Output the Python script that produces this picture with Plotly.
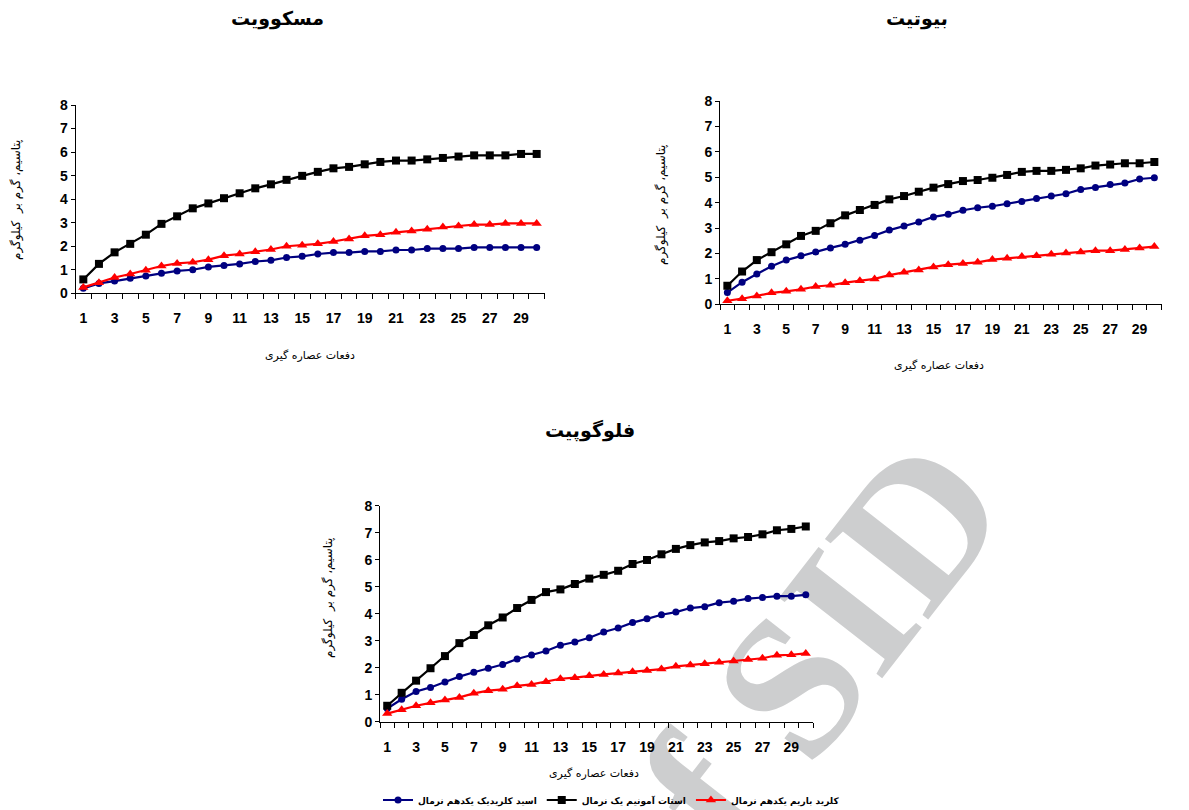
import plotly.graph_objects as go

# ---------------- data ----------------
extractions = list(range(1, 31))
tick_labels = [str(v) for v in range(1, 30, 2)]

series_names = ["اسید کلریدیک یکدهم نرمال", "استات آمونیم یک نرمال", "کلرید باریم یکدهم نرمال"]
series_colors = ["#000080", "#000000", "#FF0000"]
series_symbols = ["circle", "square", "triangle-up"]
series_sizes = [7, 8, 9]

# Muscovite (مسکوویت)
musc_hcl = [0.21, 0.42, 0.52, 0.64, 0.74, 0.85, 0.95, 1.00, 1.12, 1.18, 1.25, 1.35, 1.40, 1.52, 1.57,
            1.67, 1.73, 1.73, 1.78, 1.78, 1.84, 1.84, 1.90, 1.90, 1.90, 1.95, 1.95, 1.95, 1.95, 1.95]
musc_nh4 = [0.59, 1.25, 1.74, 2.10, 2.49, 2.95, 3.27, 3.61, 3.82, 4.04, 4.25, 4.46, 4.63, 4.82, 4.99,
            5.16, 5.31, 5.37, 5.48, 5.58, 5.64, 5.64, 5.69, 5.75, 5.81, 5.86, 5.86, 5.86, 5.92, 5.92]
musc_bacl = [0.25, 0.45, 0.67, 0.82, 0.98, 1.16, 1.27, 1.32, 1.43, 1.60, 1.67, 1.76, 1.86, 2.00, 2.04,
             2.10, 2.20, 2.31, 2.44, 2.49, 2.59, 2.65, 2.72, 2.82, 2.86, 2.92, 2.92, 2.97, 2.97, 2.97]

# Biotite (بیوتیت)
bio_hcl = [0.46, 0.87, 1.19, 1.50, 1.74, 1.91, 2.06, 2.22, 2.36, 2.52, 2.71, 2.92, 3.08, 3.24, 3.44,
           3.54, 3.70, 3.80, 3.86, 3.96, 4.05, 4.16, 4.26, 4.35, 4.52, 4.60, 4.71, 4.77, 4.93, 4.98]
bio_nh4 = [0.73, 1.29, 1.74, 2.05, 2.36, 2.69, 2.89, 3.19, 3.50, 3.71, 3.91, 4.13, 4.26, 4.43, 4.59,
           4.73, 4.85, 4.89, 4.98, 5.09, 5.21, 5.25, 5.25, 5.29, 5.35, 5.46, 5.50, 5.55, 5.55, 5.60]
bio_bacl = [0.14, 0.22, 0.33, 0.45, 0.51, 0.59, 0.70, 0.75, 0.85, 0.93, 1.00, 1.15, 1.26, 1.35, 1.47,
            1.56, 1.61, 1.65, 1.76, 1.81, 1.88, 1.91, 1.97, 2.02, 2.06, 2.11, 2.11, 2.16, 2.22, 2.27]

# Phlogopite (فلوگوپیت)
phl_hcl = [0.49, 0.83, 1.12, 1.27, 1.47, 1.67, 1.83, 1.98, 2.12, 2.32, 2.47, 2.62, 2.83, 2.95, 3.11,
           3.32, 3.47, 3.67, 3.81, 3.96, 4.06, 4.21, 4.26, 4.41, 4.46, 4.56, 4.60, 4.65, 4.65, 4.70]
phl_nh4 = [0.59, 1.07, 1.52, 1.98, 2.43, 2.91, 3.21, 3.57, 3.86, 4.21, 4.51, 4.80, 4.90, 5.10, 5.30,
           5.44, 5.59, 5.84, 5.99, 6.20, 6.40, 6.54, 6.64, 6.69, 6.79, 6.84, 6.94, 7.09, 7.14, 7.23]
phl_bacl = [0.30, 0.44, 0.59, 0.70, 0.80, 0.90, 1.05, 1.15, 1.20, 1.33, 1.38, 1.48, 1.59, 1.63, 1.70,
            1.75, 1.80, 1.85, 1.90, 1.95, 2.05, 2.10, 2.15, 2.20, 2.25, 2.30, 2.35, 2.46, 2.48, 2.53]

chart_titles = ["مسکوویت", "بیوتیت", "فلوگوپیت"]
x_title = "دفعات عصاره گیری"
y_title = "پتاسیم، گرم بر  کیلوگرم"
watermark = "of SID"

# ---------------- layout helpers ----------------
PAGE_OFF = 8            # default body margin of the html page
W, H = 1189 - PAGE_OFF, 810 - PAGE_OFF


def px_x(v):
    return (v - PAGE_OFF) / W


def px_y(v):
    return 1 - (v - PAGE_OFF) / H


# plot rectangles in page pixels: (left, right, top, bottom)
panels = [
    (75.5, 544.5, 105.0, 293.3),
    (720.0, 1161.7, 101.0, 304.3),
    (380.0, 813.0, 505.7, 721.7),
]
panel_data = [
    (musc_hcl, musc_nh4, musc_bacl),
    (bio_hcl, bio_nh4, bio_bacl),
    (phl_hcl, phl_nh4, phl_bacl),
]

fig = go.Figure()

arabic_font = "DejaVu Sans"
num_font = "Liberation Sans, Arial"

for i, (vals, rect) in enumerate(zip(panel_data, panels)):
    axn = "" if i == 0 else str(i + 1)
    for j, series in enumerate(vals):
        fig.add_trace(go.Scatter(
            x=extractions, y=series, mode="lines+markers",
            name=series_names[j],
            line=dict(color=series_colors[j], width=2.2),
            marker=dict(symbol=series_symbols[j], size=series_sizes[j], color=series_colors[j]),
            xaxis="x" + axn, yaxis="y" + axn,
            showlegend=(i == 2),
            cliponaxis=False,
        ))
    l, r, t, b = rect
    xa = dict(
        domain=[px_x(l), px_x(r)], anchor="y" + axn, range=[0.5, 30.5],
        tickmode="array", tickvals=list(range(1, 30, 2)), ticktext=tick_labels,
        ticks="", showline=True, linecolor="black", linewidth=1, showgrid=False, zeroline=False,
        tickfont=dict(family=num_font, size=14, color="black", weight="bold"),
        ticklabelstandoff=12, automargin=False,
        minor=dict(tickmode="linear", tick0=0.5, dtick=1, ticks="outside", ticklen=5,
                   tickcolor="black", tickwidth=1, showgrid=False),
    )
    ya = dict(
        domain=[px_y(b), px_y(t)], anchor="x" + axn, range=[0, 8], dtick=1,
        ticks="outside", ticklen=4, tickcolor="black", showline=True, linecolor="black",
        linewidth=1, showgrid=False, zeroline=False, automargin=False,
        tickfont=dict(family=num_font, size=14, color="black", weight="bold"),
    )
    fig.layout["xaxis" + axn] = xa
    fig.layout["yaxis" + axn] = ya

annotations = []
# chart titles
for text, (cx, cy) in zip(chart_titles, [(277, 19), (917, 19), (590, 431)]):
    annotations.append(dict(text=text, x=px_x(cx), y=px_y(cy), xref="paper", yref="paper",
                            showarrow=False, xanchor="center", yanchor="middle",
                            font=dict(family=arabic_font, size=19, color="black", weight="bold")))
# x axis titles
for (cx, cy) in [(310, 355), (939, 365), (594, 773)]:
    annotations.append(dict(text=x_title, x=px_x(cx), y=px_y(cy), xref="paper", yref="paper",
                            showarrow=False, xanchor="center", yanchor="middle",
                            font=dict(family=arabic_font, size=11, color="black")))
# y axis titles
for (cx, cy) in [(17, 200), (662, 205), (328, 598)]:
    annotations.append(dict(text=y_title, x=px_x(cx), y=px_y(cy), xref="paper", yref="paper",
                            showarrow=False, xanchor="center", yanchor="middle", textangle=-90,
                            font=dict(family=arabic_font, size=12, color="black")))

fig.update_layout(
    width=W, height=H,
    margin=dict(l=0, r=0, t=0, b=0, pad=0, autoexpand=False),
    paper_bgcolor="white",
    plot_bgcolor="rgba(0,0,0,0)",
    annotations=annotations,
    showlegend=True,
    legend=dict(orientation="h", x=px_x(378), xanchor="left", y=px_y(800), yanchor="middle",
                font=dict(family=arabic_font, size=9, color="black", weight="bold"),
                itemwidth=30, bgcolor="rgba(0,0,0,0)", traceorder="normal"),
    shapes=[dict(type="rect", xref="paper", yref="paper",
                 x0=px_x(770), x1=px_x(780), y0=px_y(675), y1=px_y(665),
                 line=dict(width=0), fillcolor="rgba(0,0,0,0)", layer="below",
                 label=dict(text=watermark, textangle=-52, textposition="middle center",
                            font=dict(family="Liberation Serif", size=200, color="#cdcecf",
                                      weight="bold")))],
)

fig.write_html("out.html")
